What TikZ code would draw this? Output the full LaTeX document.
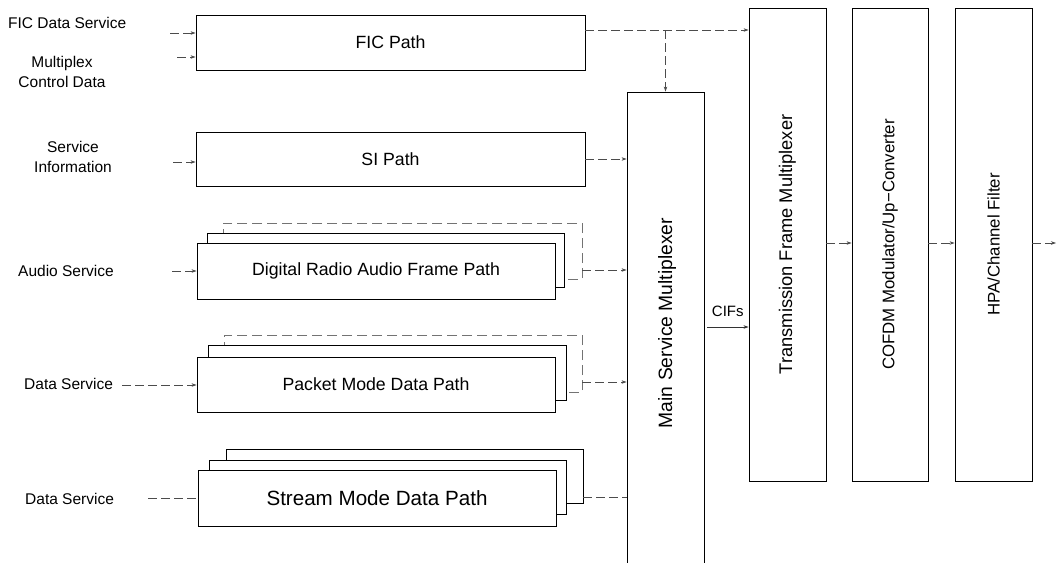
\documentclass[tikz,border=0pt]{standalone}
\usepackage{fontspec}
\setmainfont{Liberation Sans}
\usetikzlibrary{arrows.meta}
\tikzset{
  box/.style={draw=black, line width=0.9pt, fill=white, inner sep=0pt},
  faintbox/.style={draw=black!55, line width=0.7pt, dash pattern=on 10pt off 5pt, inner sep=0pt},
  conn/.style={draw=black!70, line width=0.6pt, dash pattern=on 9pt off 4pt, -{Stealth[length=5pt,width=3.5pt]}},
  plainconn/.style={draw=black!70, line width=0.6pt, dash pattern=on 9pt off 4pt},
  lab/.style={font=\fontsize{15.5}{20}\selectfont, align=center, inner sep=0pt},
  boxtext/.style={font=\fontsize{17.7}{20}\selectfont},
  vtext/.style={rotate=90, inner sep=0pt}
}
\begin{document}
\begin{tikzpicture}[x=1pt, y=-1pt]
\useasboundingbox (0,0) rectangle (1059,562);
\clip (0,0) rectangle (1059,562);

% left labels
\node[lab, anchor=west] (lfic) at (8,23) {FIC Data Service};
\node[lab] (lmcd) at (62,72) {Multiplex\\Control Data};
\node[lab] (lsi) at (73,157) {Service\\Information};
\node[lab, anchor=west] (laud) at (18,271) {Audio Service};
\node[lab, anchor=west] (lpkt) at (24,384) {Data Service};
\node[lab, anchor=west] (lstr) at (25,499) {Data Service};

% path boxes
\node[box, minimum width=389pt, minimum height=55pt, boxtext] (fic) at (390.5,42.5) {FIC Path};
\node[box, minimum width=389pt, minimum height=54pt, boxtext] (si) at (390.5,159) {SI Path};

% audio stack
\node[faintbox, minimum width=359pt, minimum height=56pt] (aud3) at (402.5,251) {};
\node[box, minimum width=357pt, minimum height=54pt] (aud2) at (385.5,260) {};
\node[box, minimum width=358pt, minimum height=56pt, boxtext] (aud) at (376,271) {Digital Radio Audio Frame Path};

% packet stack
\node[faintbox, minimum width=358pt, minimum height=57pt] (pkt3) at (403,363.5) {};
\node[box, minimum width=358pt, minimum height=55pt] (pkt2) at (387,372.5) {};
\node[box, minimum width=358pt, minimum height=55pt, boxtext] (pkt) at (376,384.5) {Packet Mode Data Path};

% stream stack
\node[box, minimum width=357pt, minimum height=54pt] (str3) at (404.5,476) {};
\node[box, minimum width=357pt, minimum height=54pt] (str2) at (387.5,487) {};
\node[box, minimum width=358pt, minimum height=56pt, font=\fontsize{20.6}{22}\selectfont] (str) at (377,498) {Stream Mode Data Path};

% main service multiplexer
\node[box, minimum width=77pt, minimum height=520pt] (msm) at (665.5,352) {};
\node[vtext, font=\fontsize{19.3}{22}\selectfont] (msmt) at (667,323) {Main Service Multiplexer};

% right column boxes (rotated: north = left edge, south = right edge)
\node[box, vtext, minimum width=473pt, minimum height=77pt, font=\fontsize{18.3}{22}\selectfont] (tfm) at (787.5,244.5) {Transmission Frame Multiplexer};
\node[box, vtext, minimum width=473pt, minimum height=76pt, font=\fontsize{16.8}{20}\selectfont] (cof) at (890,244.5) {COFDM Modulator/Up\textminus Converter};
\node[box, vtext, minimum width=473pt, minimum height=77pt, font=\fontsize{16.8}{20}\selectfont] (hpa) at (993.5,244.5) {HPA/Channel Filter};

% inputs
\coordinate (i1) at (170,33);
\coordinate (i2) at (177,57);
\coordinate (i3) at (173,162);
\coordinate (i4) at (172,271);
\coordinate (i5) at (122,385);
\coordinate (i6) at (148,498);
\draw[conn] (i1) -- (i1 -| fic.west);
\draw[conn] (i2) -- (i2 -| fic.west);
\draw[conn] (i3) -- (i3 -| si.west);
\draw[conn] (i4) -- (i4 -| aud.west);
\draw[conn] (i5) -- (i5 -| pkt.west);
\draw[plainconn] (i6) -- (i6 -| str.west);

% FIC output
\coordinate (fo) at (585,30);
\coordinate (fb) at (665.5,30);
\draw[conn] (fo) -- (fo -| tfm.north);
\draw[conn] (fb) -- (fb |- msm.north);

% outputs into main multiplexer
\coordinate (so) at (585,159);
\draw[conn] (so) -- (so -| msm.west);
\coordinate (ao) at (582,270);
\draw[conn] (ao) -- (ao -| msm.west);
\coordinate (po) at (582,382);
\draw[conn] (po) -- (po -| msm.west);
\coordinate (sto) at (583,497);
\draw[plainconn] (sto) -- (sto -| msm.west);

% CIFs
\coordinate (c1) at (707,327);
\draw[draw=black!80, line width=0.7pt, -{Stealth[length=5pt,width=3.5pt]}] (c1) -- (c1 -| tfm.north) node[midway, above=10pt, inner sep=0pt, font=\fontsize{15}{18}\selectfont] (cifs) {CIFs};

% right chain
\coordinate (r1) at (826,243);
\draw[conn] (r1) -- (r1 -| cof.north);
\coordinate (r2) at (928,243);
\draw[conn] (r2) -- (r2 -| hpa.north);
\coordinate (r3) at (1032,243);
\coordinate (outp) at (1056,243);
\draw[conn] (r3) -- (outp);
\end{tikzpicture}
\end{document}
